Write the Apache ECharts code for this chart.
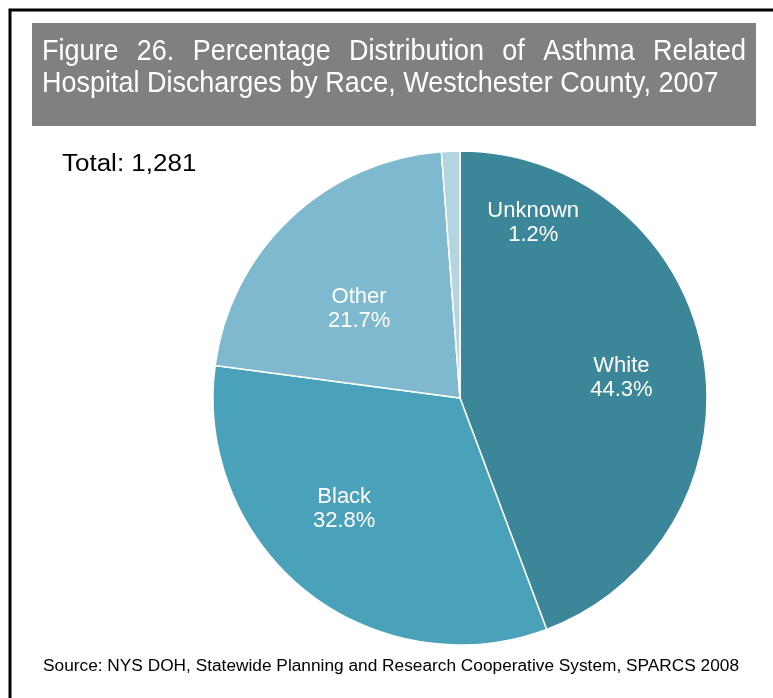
<!DOCTYPE html>
<html>
<head>
<meta charset="utf-8">
<script src="https://cdn.jsdelivr.net/npm/echarts@6/dist/echarts.min.js"></script>
<style>
  html, body { margin: 0; padding: 0; background: #fff; }
  #main { width: 773px; height: 698px; }
</style>
</head>
<body>
<div id="main"></div>
<script>
// race categories and their share of discharges (%)
const races = ['White', 'Black', 'Other', 'Unknown'];
const shares = [44.3, 32.8, 21.7, 1.2];
const sliceColors = ['#3b8799', '#49a2b9', '#7eb9cf', '#b4d4e0'];

const titleLine1 = 'Figure 26. Percentage Distribution of Asthma Related';
const titleLine2 = 'Hospital Discharges by Race, Westchester County, 2007';
const totalText = 'Total: 1,281';
const sourceText = 'Source: NYS DOH, Statewide Planning and Research Cooperative System, SPARCS 2008';

// nudges for the inside labels (the reference places them by hand)
const labelNudge = [[37, 2], [-37, 12], [-14, 3], [78, -49]];

const FONT = "'Liberation Sans', Arial, sans-serif";

var chartDom = document.getElementById('main');
var myChart = echarts.init(chartDom);

// plain text element, optionally squeezed/stretched horizontally
function txt(text, x, y, size, fill, sx) {
  return {
    type: 'text', x: x, y: y, scaleX: sx || 1,
    style: { text: text, fontSize: size, fontFamily: FONT, fill: fill, textVerticalAlign: 'middle' }
  };
}

// first title line is justified across the grey box
function justifiedWords(text, left, right, y, size, sx) {
  const ctx = document.createElement('canvas').getContext('2d');
  ctx.font = size + 'px ' + FONT;
  const words = text.split(' ');
  const widths = words.map(w => ctx.measureText(w).width * sx);
  const total = widths.reduce((a, b) => a + b, 0);
  const gap = (right - left - total) / (words.length - 1);
  let x = left;
  return words.map((w, i) => {
    const el = txt(w, x, y, size, '#fff', sx);
    x += widths[i] + gap;
    return el;
  });
}

var option = {
  backgroundColor: '#fff',
  animation: false,
  graphic: [
    {
      type: 'rect',
      shape: { x: 10, y: 10, width: 800, height: 720 },
      style: { fill: 'none', stroke: '#000', lineWidth: 3 }
    },
    {
      type: 'rect',
      shape: { x: 32, y: 23, width: 724, height: 103 },
      style: { fill: '#808080' }
    },
    ...justifiedWords(titleLine1, 42, 746, 52, 29, 0.93),
    txt(titleLine2, 42, 84, 29, '#fff', 0.93),
    txt(totalText, 62, 165, 23, '#000', 1.13),
    txt(sourceText, 43, 667, 16, '#000', 1.08)
  ],
  series: [
    {
      type: 'pie',
      center: [460, 398],
      radius: 247,
      startAngle: 90,
      clockwise: true,
      avoidLabelOverlap: false,
      itemStyle: { borderColor: '#fff', borderWidth: 1.5 },
      label: {
        show: true,
        position: 'inside',
        formatter: '{b}\n{c}%',
        color: '#fff',
        fontSize: 22,
        lineHeight: 24,
        fontFamily: FONT
      },
      labelLine: { show: false },
      labelLayout: function (params) {
        const n = labelNudge[params.dataIndex];
        return { dx: n[0], dy: n[1] };
      },
      data: races.map((r, i) => ({
        name: r,
        value: shares[i],
        itemStyle: { color: sliceColors[i] }
      }))
    }
  ]
};

option && myChart.setOption(option);
</script>
</body>
</html>
